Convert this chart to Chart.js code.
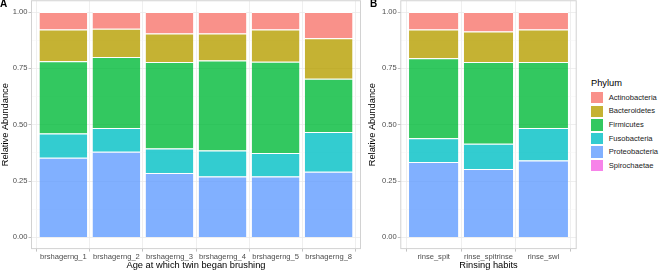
<!DOCTYPE html>
<html><head><meta charset="utf-8">
<script src="https://cdn.jsdelivr.net/npm/chart.js@4/dist/chart.umd.min.js"></script>
<style>
html,body{margin:0;padding:0;background:#fff;}
body{width:659px;height:272px;position:relative;overflow:hidden;font-family:'Liberation Sans',Arial,sans-serif;}
canvas{position:absolute;top:0;}
#cA{left:0;}
#cB{left:367px;}
.tag{position:absolute;font-weight:bold;font-size:10px;line-height:10px;color:#000;top:-1.5px;}
.lg{position:absolute;white-space:nowrap;}
</style></head>
<body>
<canvas id="cA" width="363" height="272"></canvas>
<canvas id="cB" width="211" height="272"></canvas>
<div class="tag" style="left:0px">A</div>
<div class="tag" style="left:370px">B</div>
<div id="legend"></div>
<script>
// ---- data ----
const phyla = ['Actinobacteria','Bacteroidetes','Firmicutes','Fusobacteria','Proteobacteria','Spirochaetae'];
const phylumColors = ['#F8766D','#B79F00','#00BA38','#00BFC4','#619CFF','#F564E3'];
const yTickValues = [0, 0.25, 0.5, 0.75, 1];

const categoriesA = ['brshagerng_1','brshagerng_2','brshagerng_3','brshagerng_4','brshagerng_5','brshagerng_8'];
const actinobacteriaA = [0.078, 0.074, 0.095, 0.095, 0.078, 0.116];
const bacteroidetesA  = [0.140, 0.126, 0.127, 0.120, 0.143, 0.180];
const firmicutesA     = [0.321, 0.315, 0.384, 0.400, 0.405, 0.237];
const fusobacteriaA   = [0.108, 0.105, 0.109, 0.115, 0.104, 0.176];
const proteobacteriaA = [0.352, 0.379, 0.284, 0.269, 0.269, 0.290];
const spirochaetaeA   = [0.001, 0.001, 0.001, 0.001, 0.001, 0.001];

const categoriesB = ['rinse_spit','rinse_spitrinse','rinse_swl'];
const actinobacteriaB = [0.078, 0.086, 0.078];
const bacteroidetesB  = [0.127, 0.136, 0.144];
const firmicutesB     = [0.355, 0.363, 0.293];
const fusobacteriaB   = [0.106, 0.112, 0.144];
const proteobacteriaB = [0.333, 0.302, 0.340];
const spirochaetaeB   = [0.001, 0.001, 0.001];

const seriesA = [actinobacteriaA, bacteroidetesA, firmicutesA, fusobacteriaA, proteobacteriaA, spirochaetaeA];
const seriesB = [actinobacteriaB, bacteroidetesB, firmicutesB, fusobacteriaB, proteobacteriaB, spirochaetaeB];

// ---- rendering ----
function alpha(hex, a){
  const n = parseInt(hex.slice(1),16);
  return 'rgba(' + ((n>>16)&255) + ',' + ((n>>8)&255) + ',' + (n&255) + ',' + a + ')';
}
const FONT = "'Liberation Sans', Arial, sans-serif";
Chart.defaults.font.family = FONT;

const borderPlugin = {
  id: 'panelBorder',
  afterDatasetsDraw(chart){
    const a = chart.chartArea, c = chart.ctx;
    c.save();
    c.strokeStyle = '#D2D2D2';
    c.lineWidth = 1;
    c.strokeRect(a.left, a.top, a.right - a.left, a.bottom - a.top);
    c.restore();
  }
};

function isMajor(v){ return Math.abs(v/0.25 - Math.round(v/0.25)) < 1e-9; }

function makeChart(id, cats, series, xTitle, yAxisWidth, padRight){
  // stack bottom-up: last factor level at the bottom
  const datasets = [];
  for (let k = phyla.length - 1; k >= 0; k--){
    datasets.push({
      label: phyla[k],
      data: series[k].map((v,i)=>({x:i, y:v})),
      backgroundColor: alpha(phylumColors[k], 0.8),
      borderColor: '#FFFFFF',
      borderWidth: {top:1, bottom:0, left:0, right:0},
      borderSkipped: false,
      categoryPercentage: 0.9,
      barPercentage: 1.0
    });
  }
  const minorTicks = [];
  for (let v = 0; v <= 1.0001; v += 0.125) minorTicks.push(v);
  return new Chart(document.getElementById(id), {
    type: 'bar',
    data: { datasets },
    options: {
      responsive: false,
      animation: false,
      layout: { padding: { left:0, right:padRight, top:0.75, bottom:0 } },
      plugins: { legend:{display:false}, tooltip:{enabled:false} },
      scales: {
        x: {
          type: 'linear', stacked: true, bounds: 'data',
          min: -0.6, max: cats.length - 0.4, offset: false,
          afterBuildTicks: s => { s.ticks = cats.map((c,i)=>({value:i})); },
          afterFit: s => { s.height = 23.4; s.paddingLeft = 0; s.paddingRight = 0; },
          ticks: { autoSkip:false, maxRotation:0, minRotation:0, padding:1.2, color:'#4D4D4D',
                   font:{size:7.6}, callback: v => cats[Math.round(v)] },
          grid: { color:'#EBEBEB', lineWidth:0.8, drawTicks:true, tickLength:3, tickColor:'#B3B3B3', tickWidth:0.8 },
          border: { display:false },
          title: { display:true, text:xTitle, color:'#000', font:{size:9.3}, padding:{top:0, bottom:1.4} }
        },
        y: {
          type: 'linear', stacked: true, bounds: 'data',
          min: -0.05, max: 1.05,
          afterBuildTicks: s => { s.ticks = minorTicks.map(v=>({value:v})); },
          afterFit: s => { s.width = yAxisWidth; s.paddingTop = 0; s.paddingBottom = 0; },
          ticks: { autoSkip:false, padding:1, color:'#4D4D4D', font:{size:7.6},
                   callback: v => (yTickValues.some(t => Math.abs(t - v) < 1e-9) ? v.toFixed(2) : '') },
          grid: {
            color: ctx => (ctx.tick && isMajor(ctx.tick.value)) ? '#EBEBEB' : '#F5F5F5',
            lineWidth: ctx => (ctx.tick && isMajor(ctx.tick.value)) ? 0.8 : 0.5,
            drawTicks: true, tickLength: 3,
            tickColor: ctx => (ctx.tick && isMajor(ctx.tick.value)) ? '#B3B3B3' : 'rgba(0,0,0,0)',
            tickWidth: 0.8
          },
          border: { display:false },
          title: { display:true, text:'Relative Abundance', color:'#000', font:{size:9.3}, padding:{top:0, bottom:0} }
        }
      }
    },
    plugins: [borderPlugin]
  });
}

makeChart('cA', categoriesA, seriesA, 'Age at which twin began brushing', 31.5, 2.5);
makeChart('cB', categoriesB, seriesB, 'Rinsing habits', 33.8, 1.8);

// ---- legend (ggplot-style guide) ----
(function(){
  const lg = document.getElementById('legend');
  const title = document.createElement('div');
  title.className = 'lg';
  title.textContent = 'Phylum';
  title.style.cssText = 'left:591px;top:' + (82.7 - 6) + 'px;font-size:9.3px;line-height:12px;color:#000;';
  lg.appendChild(title);
  phyla.forEach((p, i) => {
    const cy = 97.7 + 13.6 * i;
    const key = document.createElement('div');
    key.className = 'lg';
    key.style.cssText = 'left:591px;top:' + (cy - 5.8) + 'px;width:11.7px;height:11.6px;background:' + alpha(phylumColors[i], 0.8) + ';';
    lg.appendChild(key);
    const t = document.createElement('div');
    t.className = 'lg';
    t.textContent = p;
    t.style.cssText = 'left:608.7px;top:' + (cy - 5) + 'px;font-size:7.6px;line-height:10px;color:#1A1A1A;';
    lg.appendChild(t);
  });
})();
</script>
</body></html>
